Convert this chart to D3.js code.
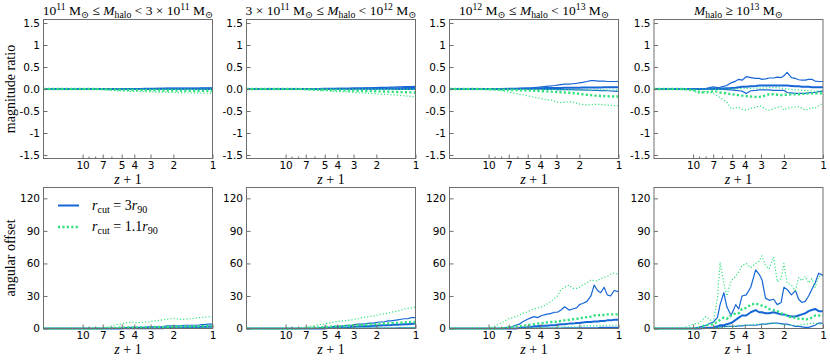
<!DOCTYPE html>
<html>
<head>
<meta charset="utf-8">
<script src="https://cdn.jsdelivr.net/npm/d3@7"></script>
<style>
  body { margin: 0; background: #fff; }
  text { fill: #000; }
</style>
</head>
<body>
<script>
// z+1 sample points (snapshots), shared by every curve
var zp1 = [20, 15, 12, 10, 9, 8, 7, 6.5, 6.2, 5.8, 5.5, 5.1, 4.7, 4.45, 4.2, 3.9, 3.6, 3.3, 3.1, 2.95, 2.77,
           2.6, 2.4, 2.25, 2.1, 2.0, 1.89, 1.75, 1.63, 1.54, 1.45, 1.37, 1.29, 1.22, 1.15, 1.08, 1.0];

var xTicks = [10, 7, 5, 4, 3, 2, 1];
var xMinorTicks = [9, 8, 6];
var magTicks = [1.5, 1, 0.5, 0, -0.5, -1, -1.5];
var magTickLabels = ["1.5", "1", "0.5", "0.0", "-0.5", "-1", "-1.5"];
var angTicks = [0, 30, 60, 90, 120];

// magnitude ratio, panel 1..4 ; B = r_cut 3r90 (blue), G = r_cut 1.1r90 (green)
var magB1Hi  = [0,0,0,0,0,0,0,0,0,0,0, 0.005,0.005,0.01,0.01,0.01,0.01,0.012,0.012,0.015,0.015, 0.015,0.015,0.018,0.018,0.02,0.02,0.02,0.02,0.02,0.022, 0.022,0.022,0.025,0.025,0.025,0.025];
var magB1Med = [0,0,0,0,0,0,0,0,0,0,0, 0.002,0.002,0.002,0.002,0.002,0.002,0.002,0.002,0.002,0.002, 0.005,0.005,0.005,0.005,0.005,0.005,0.005,0.005,0.005,0.005, 0.008,0.008,0.008,0.008,0.008,0.008];
var magB1Lo  = [0,0,0,0,0,0,0,0,0,0,0, -0.003,-0.003,-0.003,-0.003,-0.003,-0.003,-0.003,-0.003,-0.003,-0.003, -0.005,-0.005,-0.005,-0.005,-0.005,-0.005,-0.005,-0.005,-0.005,-0.005, -0.006,-0.006,-0.006,-0.006,-0.006,-0.006];
var magG1Hi  = [0,0,0,0,0,0,0,0,0,0,0, 0,0,0,0,0,0,0,0,0,0, -0.002,-0.002,-0.002,-0.002,-0.002,-0.002,-0.002,-0.002,-0.002,-0.002, -0.003,-0.003,-0.003,-0.003,-0.003,-0.003];
var magG1Med = [0,0,0,0,0,0, -0.005,-0.008,-0.01,-0.012,-0.015, -0.018,-0.02,-0.022,-0.022,-0.025,-0.025,-0.028,-0.03,-0.03,-0.03, -0.032,-0.033,-0.035,-0.035,-0.035,-0.037,-0.038,-0.04,-0.04,-0.04, -0.04,-0.042,-0.042,-0.043,-0.044,-0.045];
var magG1Lo  = [0,0,0,0,0,0, -0.01,-0.02,-0.03,-0.035,-0.04, -0.045,-0.05,-0.05,-0.055,-0.055,-0.06,-0.06,-0.065,-0.065,-0.07, -0.07,-0.072,-0.075,-0.078,-0.08,-0.08,-0.082,-0.085,-0.085,-0.088, -0.09,-0.09,-0.092,-0.095,-0.097,-0.1];

var magB2Hi  = [0,0,0,0,0,0,0,0,0,0,0, 0.005,0.008,0.01,0.01,0.012,0.015,0.015,0.018,0.02,0.02, 0.022,0.025,0.028,0.03,0.032,0.035,0.037,0.04,0.042,0.045, 0.048,0.05,0.052,0.055,0.057,0.06];
var magB2Med = [0,0,0,0,0,0,0,0,0,0,0, 0.003,0.004,0.005,0.005,0.006,0.007,0.008,0.008,0.009,0.01, 0.011,0.012,0.012,0.013,0.014,0.015,0.016,0.016,0.017,0.018, 0.018,0.019,0.02,0.02,0.021,0.022];
var magB2Lo  = [0,0,0,0,0,0,0,0,0,0,0, -0.003,-0.003,-0.003,-0.003,-0.003,-0.003,-0.003,-0.003,-0.003,-0.003, -0.006,-0.006,-0.006,-0.006,-0.006,-0.006,-0.006,-0.006,-0.006,-0.006, -0.01,-0.01,-0.01,-0.01,-0.01,-0.01];
var magG2Hi  = [0,0,0,0,0,0,0,0,0,0,0, 0,0,0,0,0,0,0,0,0,0, -0.003,-0.003,-0.003,-0.003,-0.003,-0.003,-0.003,-0.003,-0.003,-0.003, -0.005,-0.005,-0.005,-0.005,-0.005,-0.005];
var magG2Med = [0,0,0,0,0,0, -0.005,-0.008,-0.01,-0.012,-0.015, -0.018,-0.02,-0.023,-0.025,-0.028,-0.03,-0.033,-0.035,-0.037,-0.04, -0.042,-0.045,-0.048,-0.05,-0.052,-0.055,-0.057,-0.06,-0.062,-0.065, -0.067,-0.07,-0.072,-0.075,-0.077,-0.08];
var magG2Lo  = [0,0,0,0,0,0, -0.01,-0.02,-0.025,-0.03,-0.035, -0.04,-0.045,-0.05,-0.055,-0.06,-0.065,-0.07,-0.075,-0.08,-0.085, -0.09,-0.095,-0.1,-0.105,-0.11,-0.115,-0.12,-0.125,-0.13,-0.135, -0.14,-0.15,-0.155,-0.16,-0.17,-0.18];

var magB3Hi  = [0,0,0,0,0,0,0.005,0.008,0.01,0.012,0.015, 0.02,0.025,0.03,0.04,0.05,0.06,0.07,0.08,0.09,0.1, 0.11,0.11,0.12,0.13,0.14,0.15,0.17,0.19,0.19,0.18, 0.18,0.18,0.17,0.17,0.17,0.17];
var magB3Med = [0,0,0,0,0,0,0.003,0.005,0.006,0.008,0.01, 0.012,0.014,0.015,0.016,0.018,0.02,0.02,0.022,0.024,0.025, 0.026,0.027,0.028,0.03,0.03,0.032,0.033,0.034,0.035,0.035, 0.036,0.037,0.038,0.038,0.04,0.04];
var magB3Lo  = [0,0,0,0,0,0,0,0,0,0,0, -0.002,-0.003,-0.005,-0.005,-0.006,-0.008,-0.01,-0.01,-0.012,-0.012, -0.013,-0.015,-0.016,-0.018,-0.02,-0.022,-0.025,-0.028,-0.03,-0.032, -0.035,-0.038,-0.04,-0.045,-0.05,-0.055];
var magG3Hi  = [0,0,0,0,0,0,-0.002,-0.003,-0.004,-0.005,-0.005, -0.006,-0.007,-0.008,-0.008,-0.009,-0.01,-0.01,-0.011,-0.012,-0.012, -0.013,-0.014,-0.015,-0.015,-0.016,-0.017,-0.018,-0.018,-0.019,-0.02, -0.02,-0.02,-0.021,-0.021,-0.022,-0.022];
var magG3Med = [0,0,0,-0.005,-0.01,-0.015,-0.02,-0.022,-0.025,-0.028,-0.03, -0.035,-0.038,-0.04,-0.045,-0.05,-0.055,-0.06,-0.065,-0.07,-0.075, -0.08,-0.085,-0.09,-0.1,-0.11,-0.12,-0.13,-0.14,-0.15,-0.15, -0.16,-0.16,-0.165,-0.17,-0.17,-0.17];
var magG3Lo  = [0,0,0,-0.01,-0.02,-0.04,-0.07,-0.09,-0.1,-0.12,-0.13, -0.15,-0.17,-0.19,-0.2,-0.22,-0.24,-0.25,-0.28,-0.3,-0.31, -0.3,-0.29,-0.3,-0.32,-0.34,-0.35,-0.36,-0.36,-0.35,-0.35, -0.35,-0.36,-0.36,-0.37,-0.38,-0.38];

var magB4Hi  = [0,0,0,0,0,0.01,0.05,0.03,0.04,0.06,0.08, 0.14,0.18,0.22,0.2,0.28,0.26,0.24,0.24,0.22,0.23, 0.25,0.25,0.27,0.26,0.3,0.38,0.26,0.24,0.21,0.2, 0.2,0.22,0.22,0.18,0.17,0.17];
var magB4Med = [0,0,0,0,0,0,0.005,0.005,0.01,0.01,0.015, 0.02,0.03,0.04,0.05,0.05,0.06,0.07,0.08,0.08,0.08, 0.08,0.08,0.08,0.08,0.08,0.08,0.07,0.06,0.06,0.05, 0.05,0.05,0.04,0.04,0.04,0.04];
var magB4Lo  = [0,0,0,0,0,0,-0.005,-0.005,-0.01,-0.01,-0.015, -0.02,-0.03,-0.04,-0.05,-0.1,-0.04,-0.03,-0.02,-0.02,-0.02, -0.02,-0.03,-0.03,-0.03,-0.03,-0.08,-0.09,-0.1,-0.1,-0.1, -0.1,-0.09,-0.08,-0.08,-0.06,-0.05];
var magG4Hi  = [0,0,0,0,0,0,0,-0.01,0,0,0, 0,0.005,0.01,0.01,0.015,0.015,0.02,0.02,0.02,0.025, 0.03,0.03,0.03,0.02,0.01,0,-0.01,-0.02,-0.02,-0.03, -0.03,-0.04,-0.04,-0.05,-0.05,-0.05];
var magG4Med = [0,0,0,-0.03,-0.06,-0.08,-0.05,-0.06,-0.08,-0.09,-0.1, -0.12,-0.13,-0.14,-0.15,-0.16,-0.17,-0.18,-0.18,-0.17,-0.15, -0.12,-0.12,-0.13,-0.14,-0.13,-0.13,-0.12,-0.12,-0.12,-0.11, -0.11,-0.1,-0.1,-0.1,-0.1,-0.1];
var magG4Lo  = [0,0,0,-0.03,-0.1,-0.05,-0.1,-0.15,-0.2,-0.25,-0.3, -0.45,-0.43,-0.42,-0.46,-0.48,-0.44,-0.42,-0.38,-0.4,-0.46, -0.48,-0.45,-0.42,-0.4,-0.48,-0.44,-0.42,-0.41,-0.4,-0.44, -0.48,-0.46,-0.42,-0.44,-0.38,-0.32];

// angular offset (degrees)
var angB1Hi  = [0,0,0,0,0,0,0,0,0,0,0,0, 0.5,1,1,1,1,1,1.5,1.5,1.5,1.5,1.5, 2.5,2.5,2.5,2.5,2.5, 3,3,3,3,3, 3.5,3.5,4,4];
var angB1Med = [0,0,0,0,0,0,0,0,0,0,0,0, 0.3,0.3,0.3,0.3,0.3,0.3,0.3,0.3,0.3,0.3,0.3, 0.8,0.8,0.8,0.8,0.8, 1.2,1.2,1.2,1.2,1.2, 1.5,1.5,1.8,1.8];
var angB1Lo  = [0,0,0,0,0,0,0,0,0,0,0,0, 0.1,0.1,0.1,0.1,0.1,0.1,0.1,0.1,0.1,0.1,0.1, 0.2,0.2,0.2,0.2,0.2, 0.3,0.3,0.3,0.3,0.3, 0.3,0.3,0.3,0.3];
var angG1Hi  = [0,0,0,0,0,0,0,1,2,3,3.5, 4,5,5.5,6,5.5,5.5,6,6,6.5,7, 7.5,8,8.5,9,9.5,9,8.5,8.5,9,9, 9.5,10,10,10.5,11,10.5];
var angG1Med = [0,0,0,0,0,0,0, 0.2,0.3,0.5,0.6, 0.7,0.8,0.9,1,1,1.1,1.2,1.2,1.3,1.4, 1.5,1.5,1.6,1.7,1.8,1.8,1.9,2,2,2.1, 2.1,2.2,2.2,2.3,2.4,2.5];
var angG1Lo  = [0,0,0,0,0,0,0, 0.1,0.1,0.1,0.1, 0.2,0.2,0.2,0.2,0.2,0.2,0.2,0.2,0.2,0.2, 0.3,0.3,0.3,0.3,0.3,0.3,0.3,0.3,0.3,0.3, 0.4,0.4,0.4,0.4,0.4,0.4];

var angB2Hi  = [0,0,0,0,0,0,0,0,0,0,0.5, 1,1,1.5,2,2,2.5,3,3,3.5,4, 4,4.5,5,5,5.5,6,6,7,7,7.5, 8,8.5,9,9,10,10];
var angB2Med = [0,0,0,0,0,0,0,0,0,0,0,0, 0.5,0.5,0.8,1,1,1.2,1.5,1.5,1.8, 2,2,2.2,2.5,2.5,2.8,3,3,3.2,3.5, 3.5,3.8,4,4,4.2,4.5];
var angB2Lo  = [0,0,0,0,0,0,0,0,0,0,0,0, 0.2,0.2,0.2,0.2,0.2,0.2,0.2,0.2,0.2, 0.4,0.4,0.4,0.4,0.4,0.4,0.4,0.4,0.4,0.4, 0.6,0.6,0.6,0.6,0.6,0.6];
var angG2Hi  = [0,0,0,0,0,0,1,2,2.5,3,3.5, 4,5,5.5,6,6.5,7,7.5,8,8.5,9, 10,10.5,11,11.5,12,13,13.5,14,15,15.5, 16,17,18,18.5,19,20];
var angG2Med = [0,0,0,0,0,0, 0.3,0.5,0.7,1,1, 1.2,1.5,1.7,2,2,2.2,2.5,2.7,3,3, 3.2,3.5,3.7,4,4,4.2,4.5,4.7,5,5, 5.2,5.4,5.6,5.8,6,6];
var angG2Lo  = [0,0,0,0,0,0, 0.1,0.1,0.1,0.1,0.1, 0.3,0.3,0.3,0.3,0.3,0.3,0.3,0.3,0.3,0.3, 0.6,0.6,0.6,0.6,0.6,0.6,0.6,0.6,0.6,0.6, 1,1,1,1,1,1];

var angB3Hi  = [0,0,0,0,0,0,1,2,3,4,6, 8,10,11,10,12,13,14,15,15,17, 20,17,18,19,22,23,25,30,40,35, 33,38,31,30,35,34];
var angB3Med = [0,0,0,0,0,0,0,0,0,0.5,1, 1,1.5,2,2,2.5,2.5,3,3,3.5,4, 4,4.5,4.5,5,5,5.5,6,6,6.5,6.5, 7,7,7.5,7.5,8,8];
var angB3Lo  = [0,0,0,0,0,0,0,0,0,0,0, 0.3,0.3,0.3,0.3,0.3,0.3,0.3,0.3,0.3,0.3, 0.6,0.6,0.6,0.6,0.6,0.6,0.6,0.6,0.6,0.6, 1,1,1,1,1,1];
var angG3Hi  = [0,0,0,0,2,5,9,10,11,12,14, 15,17,18,19,20,22,25,28,30,36, 38,40,37,37,38,40,42,45,44,44, 46,47,48,50,51,50];
var angG3Med = [0,0,0,0,0,0,1,1.5,2,2,2.5, 3,3.5,4,4.5,5,5.5,6,6,6.5,7, 7.5,8,8.5,9,9,10,10.5,11,12,12, 12.5,12.5,13,13,13,13];
var angG3Lo  = [0,0,0,0,0,0,0,0,0,0,0, 0.5,0.5,0.5,0.5,0.5,0.5,0.5,0.5, 1.5,1.5,1.5,1.5,1.5,1.5,1.5, 2.5,2.5,2.5,2.5,2.5,2.5, 3,3,3,3,3];

var angB4Hi  = [0,0,0,0,1,3,6,10,22,33,20, 12,22,18,30,31,38,54,50,45,28, 26,27,22,24,38,36,31,35,27,24, 25,30,36,42,51,49];
var angB4Med = [0,0,0,0,0,0.5,1,2,3,3,4, 5,8,10,12,12,15,17,15,15,14, 14,15,14,13,13,12,11,11,12,13, 14,16,17,18,16,16];
var angB4Lo  = [0,0,0,0,0,0,0.5,1,1.5,2,2, 2,2,2.5,2.5,3,3,3,3.5,4,4, 4.5,5,5,4.5,4,4,3,2,2,1.5, 1,1,2,3,5,5];
var angG4Hi  = [0,0,0,4,5,11,6,28,61,42,30, 44,48,52,58,60,56,60,62,67,58, 55,66,43,46,60,42,40,35,47,44, 48,42,46,38,48,48];
var angG4Med = [0,0,0,0,1,3,4,6,8,10,9, 12,14,14,18,19,22,23,22,21,20, 18,17,16,14,13,12,10,10,9,9, 8,9,10,12,12,12];
var angG4Lo  = [0,0,0,0,0,0,0,1,1,1,1.5, 2,2,2.5,3,3,3.5,4,4,4,4.5, 5,5,4.5,4,3,3,3,3,3,3.5, 4,4,5,5,4,4];

var blue = "#1766d6", green = "#33e07f";

// per curve style: [colour, width, dash]
var styles = [
  [blue, 1.2, null], [blue, 2, null], [blue, 1.2, null],
  [green, 1.2, "1.2,2"], [green, 2.4, "2.2,2.2"], [green, 1.2, "1.2,2"]
];

var magPanels = [
  [magB1Hi, magB1Med, magB1Lo, magG1Hi, magG1Med, magG1Lo],
  [magB2Hi, magB2Med, magB2Lo, magG2Hi, magG2Med, magG2Lo],
  [magB3Hi, magB3Med, magB3Lo, magG3Hi, magG3Med, magG3Lo],
  [magB4Hi, magB4Med, magB4Lo, magG4Hi, magG4Med, magG4Lo]
];
var angPanels = [
  [angB1Hi, angB1Med, angB1Lo, angG1Hi, angG1Med, angG1Lo],
  [angB2Hi, angB2Med, angB2Lo, angG2Hi, angG2Med, angG2Lo],
  [angB3Hi, angB3Med, angB3Lo, angG3Hi, angG3Med, angG3Lo],
  [angB4Hi, angB4Med, angB4Lo, angG4Hi, angG4Med, angG4Lo]
];

// titles as [text, kind] parts; kind: n normal, sup, sub, i italic
var titles = [
  [["10","n"],["11","sup"],[" M","n"],["\u2299","sub"],[" \u2264 ","n"],["M","i"],["halo","sub"],[" < 3 \u00d7 10","n"],["11","sup"],[" M","n"],["\u2299","sub"]],
  [["3 \u00d7 10","n"],["11","sup"],[" M","n"],["\u2299","sub"],[" \u2264 ","n"],["M","i"],["halo","sub"],[" < 10","n"],["12","sup"],[" M","n"],["\u2299","sub"]],
  [["10","n"],["12","sup"],[" M","n"],["\u2299","sub"],[" \u2264 ","n"],["M","i"],["halo","sub"],[" < 10","n"],["13","sup"],[" M","n"],["\u2299","sub"]],
  [["M","i"],["halo","sub"],[" \u2265 10","n"],["13","sup"],[" M","n"],["\u2299","sub"]]
];

var W = 830, H = 361;
var panelLeft = [43.5, 246.5, 449.5, 654], panelW = 169;
var rows = [
  {top: 19.5, h: 139, domain: [-1.58, 1.58], ticks: magTicks, labels: magTickLabels, data: magPanels, ylabel: "magnitude ratio"},
  {top: 187.5, h: 141, domain: [0, 130], ticks: angTicks, labels: angTicks.map(String), data: angPanels, ylabel: "angular offset"}
];

var svg = d3.select("body").append("svg")
    .attr("width", W)
    .attr("height", H);
svg.append("rect").attr("width", W).attr("height", H).attr("fill", "#fff");

var serif = "'Liberation Serif', 'DejaVu Serif', serif";
var sans = "'DejaVu Sans', sans-serif";
var frameCol = "#6e6e6e";

function mathText(sel, parts) {
    var off = 0;
    parts.forEach(function(p) {
        var target = p[1] == "sup" ? -5 : p[1] == "sub" ? 3 : 0;
        var ts = sel.append("tspan").text(p[0]).attr("dy", target - off);
        off = target;
        if (p[1] == "sup" || p[1] == "sub") ts.attr("font-size", "0.72em");
        if (p[1] == "i") ts.attr("font-style", "italic");
    });
}

var x = d3.scaleLog().domain([20, 1]).range([0, panelW]);

rows.forEach(function(row, r) {
    var y = d3.scaleLinear().domain(row.domain).range([row.h, 0]);
    row.data.forEach(function(series, p) {
        var g = svg.append("g").attr("transform", "translate(" + panelLeft[p] + "," + row.top + ")");

        var line = d3.line()
            .x(function(d, i) { return x(zp1[i]); })
            .y(function(d) { return y(d); });

        series.forEach(function(vals, k) {
            var s = styles[k];
            g.append("path")
                .attr("d", line(vals))
                .attr("fill", "none")
                .attr("stroke", s[0])
                .attr("stroke-width", s[1])
                .attr("stroke-dasharray", s[2])
                .attr("stroke-linejoin", "round");
        });

        // axes, ticks inside
        g.append("g").call(d3.axisLeft(y).tickValues(row.ticks)
            .tickFormat(function(d, i) { return row.labels[i]; })
            .tickSizeInner(-4).tickSizeOuter(0).tickPadding(3.5));
        g.append("g").attr("transform", "translate(0," + row.h + ")")
            .call(d3.axisBottom(x).tickValues(xTicks).tickFormat(function(d) { return d; })
            .tickSizeInner(-4).tickSizeOuter(0).tickPadding(3.5));
        g.append("g").attr("transform", "translate(0," + row.h + ")")
            .call(d3.axisBottom(x).tickValues(xMinorTicks).tickFormat("")
            .tickSizeInner(-2).tickSizeOuter(0));
        g.selectAll(".domain").remove();
        g.selectAll(".tick line").attr("stroke", frameCol);
        g.selectAll(".tick text").attr("font-family", sans).attr("font-size", 10.5).attr("fill", "#000");

        g.append("rect")
            .attr("width", panelW).attr("height", row.h)
            .attr("fill", "none").attr("stroke", frameCol).attr("stroke-width", 1);

        g.append("text")
            .attr("x", panelW / 2).attr("y", row.h + 25)
            .attr("text-anchor", "middle")
            .attr("font-family", serif).attr("font-size", 14)
            .call(mathText, [["z", "i"], [" + 1", "n"]]);

        if (r == 0) {
            g.append("text")
                .attr("x", panelW / 2).attr("y", -4.5)
                .attr("text-anchor", "middle")
                .attr("font-family", serif).attr("font-size", 13.5)
                .call(mathText, titles[p]);
        }
    });

    svg.append("text")
        .attr("transform", "translate(15," + (row.top + row.h / 2) + ") rotate(-90)")
        .attr("text-anchor", "middle")
        .attr("font-family", serif).attr("font-size", 14)
        .text(row.ylabel);
});

// legend
var legend = svg.append("g").attr("transform", "translate(58,205.5)");
var legendItems = [
  [styles[1], [["r","i"],["cut","sub"],[" = 3","n"],["r","i"],["90","sub"]]],
  [styles[4], [["r","i"],["cut","sub"],[" = 1.1","n"],["r","i"],["90","sub"]]]
];
legendItems.forEach(function(it, i) {
    var s = it[0];
    legend.append("line")
        .attr("x1", 0).attr("x2", 21).attr("y1", i * 21.5).attr("y2", i * 21.5)
        .attr("stroke", s[0]).attr("stroke-width", s[1]).attr("stroke-dasharray", s[2]);
    legend.append("text")
        .attr("x", 34).attr("y", i * 21.5 + 4)
        .attr("font-family", serif).attr("font-size", 14)
        .call(mathText, it[1]);
});
</script>
</body>
</html>
